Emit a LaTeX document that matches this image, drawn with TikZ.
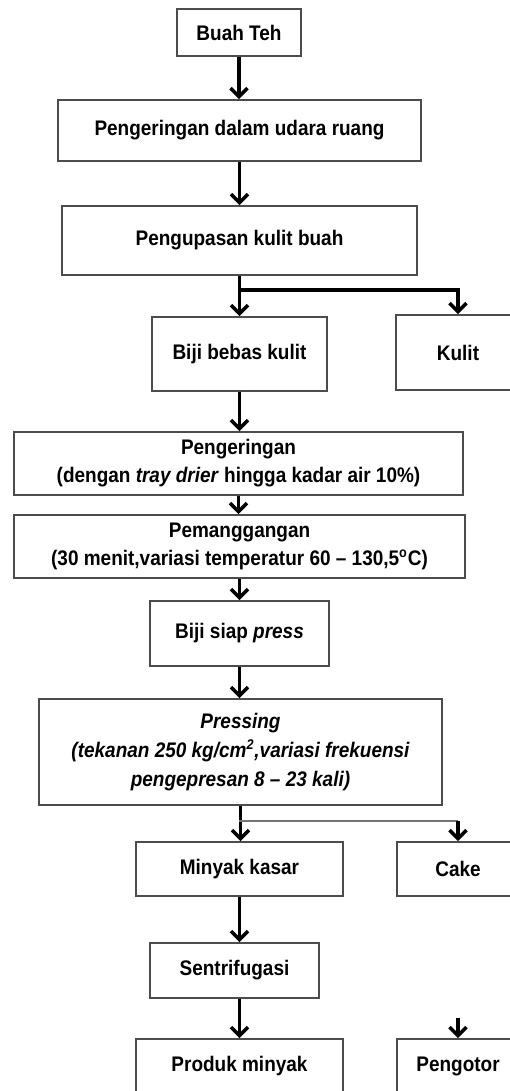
\documentclass[tikz,border=0pt]{standalone}
\usepackage{fontspec}
\setmainfont{Liberation Sans}[FakeStretch=0.9]
\usetikzlibrary{arrows.meta}

\begin{document}
\begin{tikzpicture}[x=0.02cm,y=-0.02cm,
  kotak/.style={draw=black!70, line width=1.1pt, fill=white, align=center, inner sep=0pt,
    font=\fontsize{12}{16}\selectfont\bfseries},
  panah/.style={-{Straight Barb[length=1.7mm,width=3.4mm]}, line width=2pt, black},
  garis/.style={draw=black!55, line width=1.2pt}]
\useasboundingbox (0,0) rectangle (510,1091);
\clip (0,0) rectangle (510,1091);
\node[kotak, minimum width=2.48cm, minimum height=0.94cm] (A) at (239,32.5) {Buah Teh};
\node[kotak, minimum width=7.26cm, minimum height=1.22cm] (B) at (239.5,130.5) {Pengeringan dalam udara ruang};
\node[kotak, minimum width=7.10cm, minimum height=1.38cm] (C) at (239.5,240.5) {Pengupasan kulit buah};
\node[kotak, minimum width=3.50cm, minimum height=1.48cm] (D) at (239.5,354) {Biji bebas kulit};
\node[kotak, minimum width=2.48cm, minimum height=1.50cm] (E) at (458,352.5) {Kulit};
\node[kotak, minimum width=8.98cm, minimum height=1.26cm] (F) at (238.5,463.5)
  {Pengeringan\\(dengan \textit{tray drier} hingga kadar air 10\%)};
\node[kotak, minimum width=9.02cm, minimum height=1.26cm] (G) at (239.5,546.5)
  {Pemanggangan\\(30 menit,variasi temperatur 60 -- 130,5\textsuperscript{o}C)};
\node[kotak, minimum width=3.58cm, minimum height=1.30cm] (H) at (239.5,633.5) {Biji siap \textit{press}};
\node[kotak, minimum width=8.06cm, minimum height=2.12cm, font=\fontsize{12}{16.5}\selectfont\bfseries\itshape] (I) at (240.5,752)
  {Pressing\\(tekanan 250 kg/cm\textsuperscript{2},variasi frekuensi\\pengepresan 8 -- 23 kali)};
\node[kotak, minimum width=4.14cm, minimum height=1.08cm] (J) at (239.5,869) {Minyak kasar};
\node[kotak, minimum width=2.44cm, minimum height=1.08cm] (K) at (458,869) {Cake};
\node[kotak, minimum width=3.38cm, minimum height=1.10cm] (L) at (234.5,970.5) {Sentrifugasi};
\node[kotak, minimum width=4.14cm, minimum height=1.10cm] (M) at (239.5,1066.5) {Produk minyak};
\node[kotak, minimum width=2.44cm, minimum height=1.10cm] (N) at (458,1066.5) {Pengotor};
%------------------
\foreach \a/\b in {A/B,B/C,C/D,D/F,F/G,G/H,H/I,I/J,J/L}
  \draw[panah](\a.south)--(\a.south|-\b.north);
\draw[panah](M.north|-L.south)--(M.north);
%------------------
\coordinate (P) at (239,290);
\draw[panah](P)-|(E.north);
\coordinate (Q) at (239,821);
\draw[garis](Q)--(Q-|K.north);
\draw[panah](Q-|K.north)--(K.north);
\coordinate (R) at (458,1018);
\draw[panah](R)--(N.north);
\end{tikzpicture}
\end{document}
